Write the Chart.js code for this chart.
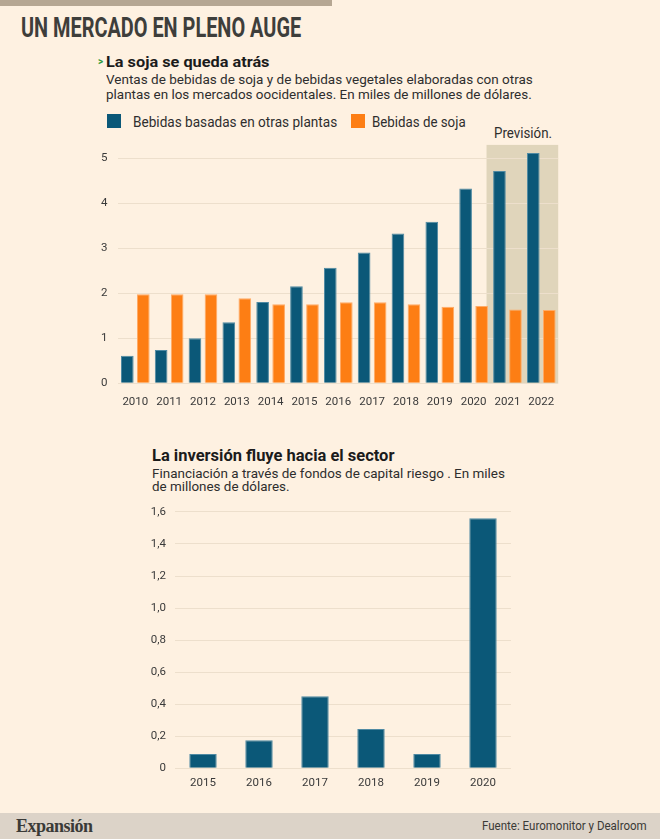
<!DOCTYPE html>
<html>
<head>
<meta charset="utf-8">
<title>Un mercado en pleno auge</title>
<script src="https://cdn.jsdelivr.net/npm/chart.js@4.4.1/dist/chart.umd.min.js"></script>
<style>
  body {
    margin: 0;
    width: 660px;
    height: 839px;
    background: #fef1e1;
    position: relative;
    overflow: hidden;
    font-family: Roboto, "Noto Sans", sans-serif;
    color: #2e2e2e;
  }
  .t {
    position: absolute;
    white-space: nowrap;
    line-height: 1;
    transform-origin: 0 0;
  }
  .band { position: absolute; left: 0; top: 0; width: 332px; height: 6px; background: #b6a793; }
  .foot { position: absolute; left: 0; top: 813px; width: 660px; height: 26px; background: #dcd3c8; }
  .sq { position: absolute; width: 14px; height: 14px; }
  canvas { position: absolute; }
</style>
</head>
<body>
<div class="band"></div>

<div class="t" id="title" data-w="280" style="left:21px; top:15px; font-size:27px; font-weight:700; color:#3e3e3b;">UN MERCADO EN PLENO AUGE</div>

<div class="t" style="left:98px; top:57px; font-size:10px; font-weight:700; color:#2f9a3f;">&gt;</div>
<div class="t" data-w="164" style="left:106px; top:55px; font-size:15.5px; font-weight:700; color:#1b1b1b;">La soja se queda atrás</div>
<div class="t" data-w="427" style="left:106px; top:72.5px; font-size:13px;">Ventas de bebidas de soja y de bebidas vegetales elaboradas con otras</div>
<div class="t" data-w="426" style="left:106px; top:88px; font-size:13px;">plantas en los mercados oocidentales. En miles de millones de dólares.</div>

<div class="sq" style="left:107px; top:114px; background:#0b5878;"></div>
<div class="t" data-w="204" style="left:133px; top:115px; font-size:14px;">Bebidas basadas en otras plantas</div>
<div class="sq" style="left:351px; top:114px; background:#fd7e14;"></div>
<div class="t" data-w="94" style="left:372px; top:115px; font-size:14px;">Bebidas de soja</div>
<div class="t" data-w="58" style="left:494px; top:125.5px; font-size:14px;">Previsión.</div>

<canvas id="ventas" width="480" height="288" style="left:90px; top:127px;"></canvas>

<div class="t" data-w="242" style="left:151.5px; top:447.5px; font-size:16px; font-weight:700; color:#1b1b1b;">La inversión fluye hacia el sector</div>
<div class="t" data-w="353" style="left:151.5px; top:466.5px; font-size:13px;">Financiación a través de fondos de capital riesgo . En miles</div>
<div class="t" data-w="138" style="left:151.5px; top:480px; font-size:13px;">de millones de dólares.</div>

<canvas id="inversion" width="390" height="304" style="left:130px; top:496px;"></canvas>

<div class="foot"></div>
<div class="t" data-w="77" style="left:16px; top:817px; font-size:18px; font-weight:700; font-family:'Liberation Serif','DejaVu Serif',serif; color:#3a3a37; letter-spacing:-0.5px;">Expansión</div>
<div class="t" data-w="165" style="left:482px; top:820px; font-size:12.5px; color:#3a3a37;">Fuente: Euromonitor y Dealroom</div>

<script>
// datos del gráfico superior
const years = ['2010', '2011', '2012', '2013', '2014', '2015', '2016', '2017', '2018', '2019', '2020', '2021', '2022'];
const otrasPlantas = [0.61, 0.74, 1.0, 1.36, 1.81, 2.16, 2.57, 2.91, 3.33, 3.59, 4.33, 4.72, 5.12];
const soja = [1.98, 1.98, 1.98, 1.89, 1.76, 1.76, 1.80, 1.80, 1.76, 1.70, 1.72, 1.64, 1.63];
const forecastYears = ['2021', '2022'];
const ventasTicks = [0, 1, 2, 3, 4, 5];

// datos del gráfico inferior
const invYears = ['2015', '2016', '2017', '2018', '2019', '2020'];
const inversion = [0.09, 0.175, 0.45, 0.245, 0.09, 1.56];
const invTicks = [0, 0.2, 0.4, 0.6, 0.8, 1.0, 1.2, 1.4, 1.6];

const BLUE = '#0b5878';
const ORANGE = '#fd7e14';
const GRID = '#eddfcc';
const TICK_FONT = { family: 'Roboto', size: 11.5 };
const TICK_COLOR = '#3a3a3a';

// fit the text lines to the widths measured on the reference
document.querySelectorAll('.t[data-w]').forEach(el => {
  const w = parseFloat(el.dataset.w);
  el.style.transform = 'scaleX(' + (w / el.offsetWidth) + ')';
});

// shaded forecast band behind the last two years
const forecastBand = {
  id: 'forecastBand',
  beforeDraw(chart) {
    const { ctx, chartArea, scales: { x } } = chart;
    const idx = years.indexOf(forecastYears[0]);
    const step = x.getPixelForValue(1) - x.getPixelForValue(0);
    const left = x.getPixelForValue(idx) - step / 2 - 4;
    ctx.save();
    ctx.fillStyle = '#e0d5bb';
    ctx.fillRect(left, chartArea.top, chartArea.right - left, chartArea.bottom - chartArea.top);
    ctx.restore();
  }
};

new Chart(document.getElementById('ventas'), {
  type: 'bar',
  data: {
    labels: years,
    datasets: [
      {
        label: 'Bebidas basadas en otras plantas',
        data: otrasPlantas,
        backgroundColor: BLUE,
        borderColor: '#4f8aa3',
        borderWidth: 1
      },
      {
        label: 'Bebidas de soja',
        data: soja,
        backgroundColor: ORANGE,
        borderColor: '#ffab66',
        borderWidth: 1
      }
    ]
  },
  options: {
    responsive: false,
    animation: false,
    layout: { padding: { top: 0, right: 11.8, left: 0, bottom: 0 } },
    categoryPercentage: 0.947,
    barPercentage: 0.79,
    plugins: { legend: { display: false }, tooltip: { enabled: false } },
    scales: {
      x: {
        grid: { display: false, drawTicks: false },
        border: { display: false },
        ticks: { font: TICK_FONT, color: TICK_COLOR, padding: 12, maxRotation: 0, autoSkip: false },
        afterFit: s => { s.height = 31.7; }
      },
      y: {
        min: 0,
        max: 5.3,
        grid: { color: GRID, lineWidth: 1, drawTicks: false },
        border: { display: false },
        ticks: { font: TICK_FONT, color: TICK_COLOR, padding: 11 },
        afterBuildTicks: s => { s.ticks = ventasTicks.map(v => ({ value: v })); },
        afterFit: s => { s.width = 28.4; }
      }
    }
  },
  plugins: [forecastBand]
});

new Chart(document.getElementById('inversion'), {
  type: 'bar',
  data: {
    labels: invYears,
    datasets: [{
      label: 'Inversión',
      data: inversion,
      backgroundColor: BLUE,
      borderColor: '#4f8aa3',
      borderWidth: 1
    }]
  },
  options: {
    responsive: false,
    animation: false,
    layout: { padding: { top: 0, right: 9, left: 0, bottom: 0 } },
    categoryPercentage: 1,
    barPercentage: 0.49,
    plugins: { legend: { display: false }, tooltip: { enabled: false } },
    scales: {
      x: {
        grid: { display: false, drawTicks: false },
        border: { display: false },
        ticks: { font: TICK_FONT, color: TICK_COLOR, padding: 8, maxRotation: 0 },
        afterFit: s => { s.height = 31.7; }
      },
      y: {
        min: 0,
        max: 1.6,
        grid: { color: GRID, lineWidth: 1, drawTicks: false },
        border: { display: false },
        ticks: {
          font: TICK_FONT,
          color: TICK_COLOR,
          padding: 9,
          callback: v => v === 0 ? '0' : v.toFixed(1).replace('.', ',')
        },
        afterBuildTicks: s => { s.ticks = invTicks.map(v => ({ value: v })); },
        afterFit: s => { s.width = 45; }
      }
    }
  }
});
</script>
</body>
</html>
